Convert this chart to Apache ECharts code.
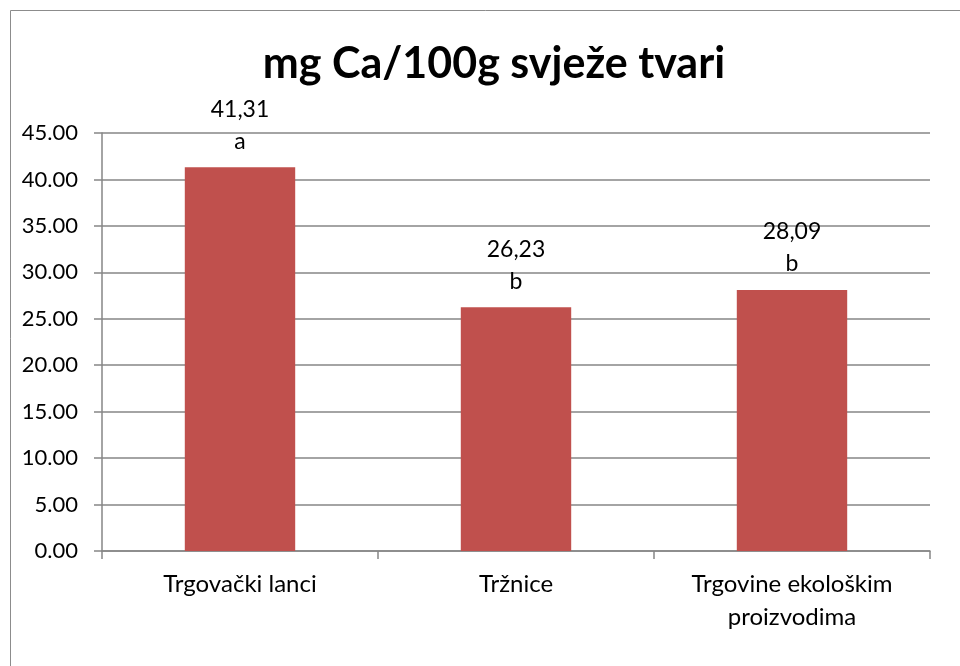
<!DOCTYPE html>
<html>
<head>
<meta charset="utf-8">
<script src="https://cdn.jsdelivr.net/npm/echarts@6/dist/echarts.min.js"></script>
<style>
  html, body { margin: 0; padding: 0; background: #fff; }
  #chart { width: 960px; height: 666px; }
</style>
</head>
<body>
<div id="chart"></div>
<script>
const categories = ['Trgovački lanci', 'Tržnice', 'Trgovine ekološkim\nproizvodima']
const values = [41.31, 26.23, 28.09]
const letters = ['a', 'b', 'b']
const yTicks = { min: 0, max: 45, interval: 5 }

const chart = echarts.init(document.getElementById('chart'))

const option = {
  animation: false,
  backgroundColor: '#fff',
  textStyle: { fontFamily: 'Lato' },
  title: {
    text: 'mg Ca/100g svježe tvari',
    left: 489,
    textAlign: 'center',
    top: 38,
    textStyle: { fontFamily: 'Lato', fontWeight: 'bold', fontSize: 43, color: '#000' }
  },
  graphic: [
    {
      type: 'rect',
      shape: { x: 10.5, y: 10.5, width: 1000, height: 1000 },
      style: { fill: 'none', stroke: '#8c8c8c', lineWidth: 1 },
      silent: true
    }
  ],
  grid: { left: 102, right: 30, top: 133, bottom: 115 },
  xAxis: {
    type: 'category',
    data: categories,
    axisLine: { lineStyle: { color: '#868686', width: 1.5 } },
    axisTick: { show: true, length: 8, lineStyle: { color: '#868686', width: 1.5 } },
    axisLabel: { color: '#000', fontSize: 24, margin: 17, lineHeight: 33, fontFamily: 'Lato' }
  },
  yAxis: {
    type: 'value',
    min: yTicks.min,
    max: yTicks.max,
    interval: yTicks.interval,
    axisLine: { show: true, lineStyle: { color: '#868686', width: 1.5 } },
    axisTick: { show: true, length: 8, lineStyle: { color: '#868686', width: 1.5 } },
    splitLine: { lineStyle: { color: '#868686', width: 1.5 } },
    axisLabel: {
      color: '#000',
      fontSize: 22,
      margin: 24,
      fontFamily: 'Lato',
      formatter: (v) => v.toFixed(2)
    }
  },
  series: [
    {
      type: 'bar',
      data: values,
      barWidth: '40%',
      itemStyle: { color: '#c0504d' },
      label: {
        show: true,
        position: 'top',
        distance: 10,
        color: '#000',
        fontSize: 23,
        lineHeight: 32,
        fontFamily: 'Lato',
        formatter: (p) => String(values[p.dataIndex]).replace('.', ',') + '\n' + letters[p.dataIndex]
      }
    }
  ]
}

chart.setOption(option)
</script>
</body>
</html>
